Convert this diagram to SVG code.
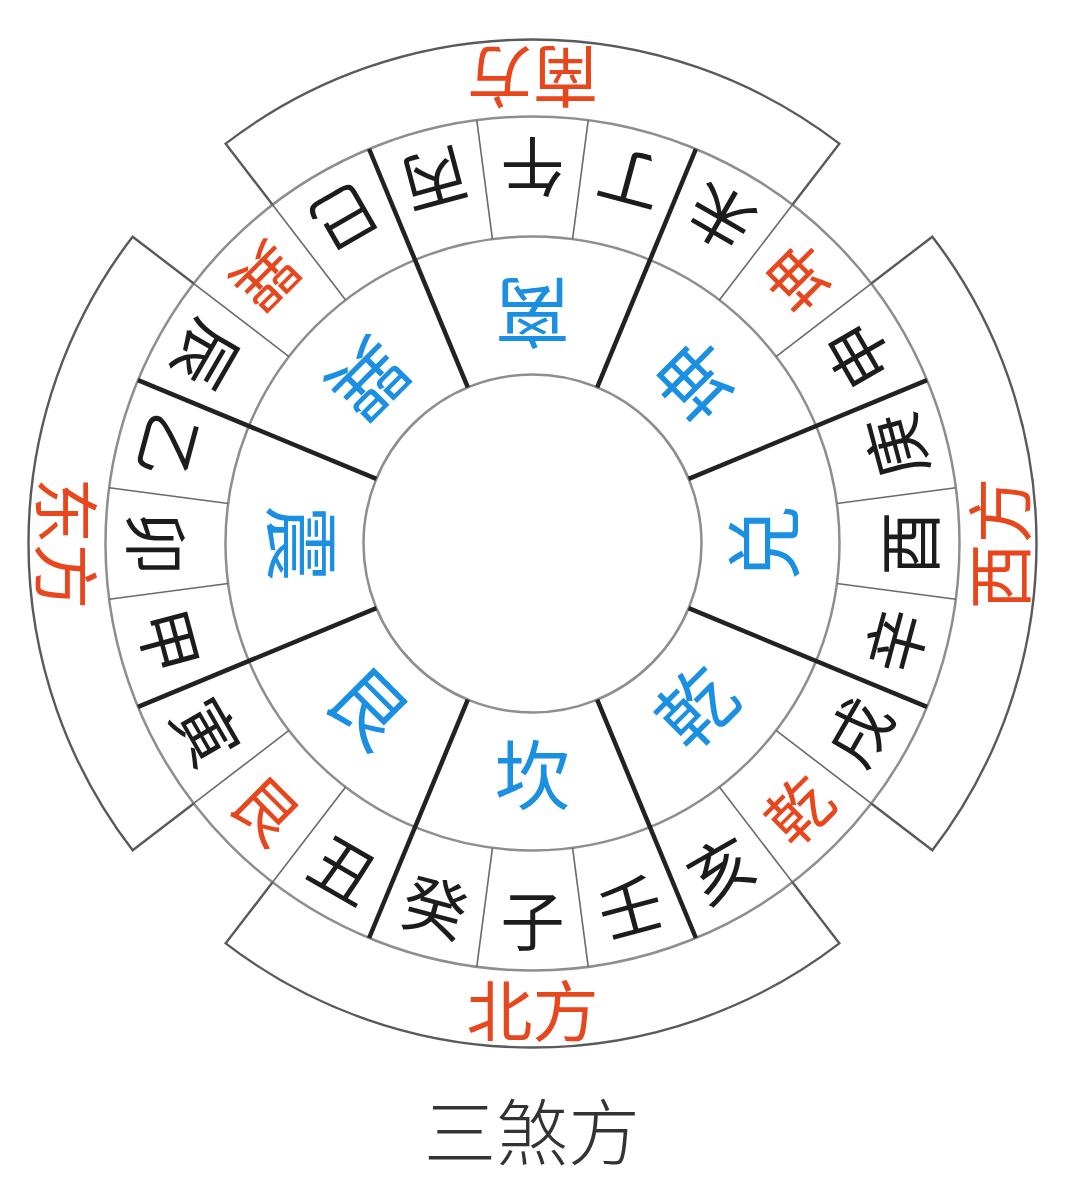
<svg xmlns="http://www.w3.org/2000/svg" xmlns:xlink="http://www.w3.org/1999/xlink" width="1080" height="1200" viewBox="0 0 1080 1200">
  <style>
    text { font-family: "Noto Sans CJK SC", "Noto Sans", sans-serif; text-anchor: middle; dominant-baseline: central; }
    .m { font-size: 64px; fill: #1c1c1c; }
    .mr { font-size: 64px; fill: #e8461c; }
    .tg { font-size: 76px; fill: #1b8fe2; }
    .dir { font-size: 66px; fill: #e8461c; }
    .title { font-size: 72px; fill: #333333; font-weight: 300; }
    .ring { fill: none; stroke: #8e8e8e; stroke-width: 2.5; }
    .thin { stroke: #6a6a6a; stroke-width: 1.6; }
    .thick { stroke: #222222; stroke-width: 4.5; }
    .sector { fill: none; stroke: #5a5a5a; stroke-width: 2.4; }
  </style>
  <defs>
    <path id="sec" d="M 259.94 338.76 L 306.82 399.85 A 504 504 0 0 1 -306.82 399.85 L -259.94 338.76"/>
  </defs>
  <rect x="0" y="0" width="1080" height="1200" fill="#ffffff"/>
  <g transform="translate(532.5,543.5)">
    <g id="rings">
      <circle class="ring" r="169"/>
      <circle class="ring" r="307" stroke="#7a7a7a"/>
      <circle class="ring" r="427"/>
    </g>
    <g id="direction-sectors">
      <use xlink:href="#sec" href="#sec" class="sector"/>
      <use xlink:href="#sec" href="#sec" class="sector" transform="rotate(90)"/>
      <use xlink:href="#sec" href="#sec" class="sector" transform="rotate(180)"/>
      <use xlink:href="#sec" href="#sec" class="sector" transform="rotate(270)"/>
    </g>
    <g id="connectors">
      <g class="thin">
        <line y1="307" y2="427" transform="rotate(7.5)"/>
        <line y1="307" y2="427" transform="rotate(37.5)"/>
        <line y1="307" y2="427" transform="rotate(52.5)"/>
        <line y1="307" y2="427" transform="rotate(82.5)"/>
        <line y1="307" y2="427" transform="rotate(97.5)"/>
        <line y1="307" y2="427" transform="rotate(127.5)"/>
        <line y1="307" y2="427" transform="rotate(142.5)"/>
        <line y1="307" y2="427" transform="rotate(172.5)"/>
        <line y1="307" y2="427" transform="rotate(187.5)"/>
        <line y1="307" y2="427" transform="rotate(217.5)"/>
        <line y1="307" y2="427" transform="rotate(232.5)"/>
        <line y1="307" y2="427" transform="rotate(262.5)"/>
        <line y1="307" y2="427" transform="rotate(277.5)"/>
        <line y1="307" y2="427" transform="rotate(307.5)"/>
        <line y1="307" y2="427" transform="rotate(322.5)"/>
        <line y1="307" y2="427" transform="rotate(352.5)"/>
      </g>
      <g class="thick">
        <line y1="169" y2="427" transform="rotate(22.5)"/>
        <line y1="169" y2="427" transform="rotate(67.5)"/>
        <line y1="169" y2="427" transform="rotate(112.5)"/>
        <line y1="169" y2="427" transform="rotate(157.5)"/>
        <line y1="169" y2="427" transform="rotate(202.5)"/>
        <line y1="169" y2="427" transform="rotate(247.5)"/>
        <line y1="169" y2="427" transform="rotate(292.5)"/>
        <line y1="169" y2="427" transform="rotate(337.5)"/>
      </g>
    </g>
    <g id="trigrams">
      <text class="tg" y="227" transform="rotate(0)">坎</text>
      <text class="tg" y="227" transform="rotate(45)">艮</text>
      <text class="tg" y="227" transform="rotate(90)">震</text>
      <text class="tg" y="227" transform="rotate(135)">巽</text>
      <text class="tg" y="227" transform="rotate(180)">离</text>
      <text class="tg" y="227" transform="rotate(225)">坤</text>
      <text class="tg" y="227" transform="rotate(270)">兑</text>
      <text class="tg" y="227" transform="rotate(315)">乾</text>
    </g>
    <g id="mountains">
      <text class="m" y="373" transform="rotate(0)">子</text>
      <text class="m" y="373" transform="rotate(15)">癸</text>
      <text class="m" y="373" transform="rotate(30)">丑</text>
      <text class="mr" y="373" transform="rotate(45)">艮</text>
      <text class="m" y="373" transform="rotate(60)">寅</text>
      <text class="m" y="373" transform="rotate(75)">甲</text>
      <text class="m" y="373" transform="rotate(90)">卯</text>
      <text class="m" y="373" transform="rotate(105)">乙</text>
      <text class="m" y="373" transform="rotate(120)">辰</text>
      <text class="mr" y="373" transform="rotate(135)">巽</text>
      <text class="m" y="373" transform="rotate(150)">巳</text>
      <text class="m" y="373" transform="rotate(165)">丙</text>
      <text class="m" y="373" transform="rotate(180)">午</text>
      <text class="m" y="373" transform="rotate(195)">丁</text>
      <text class="m" y="373" transform="rotate(210)">未</text>
      <text class="mr" y="373" transform="rotate(225)">坤</text>
      <text class="m" y="373" transform="rotate(240)">申</text>
      <text class="m" y="373" transform="rotate(255)">庚</text>
      <text class="m" y="373" transform="rotate(270)">酉</text>
      <text class="m" y="373" transform="rotate(285)">辛</text>
      <text class="m" y="373" transform="rotate(300)">戌</text>
      <text class="mr" y="373" transform="rotate(315)">乾</text>
      <text class="m" y="373" transform="rotate(330)">亥</text>
      <text class="m" y="373" transform="rotate(345)">壬</text>
    </g>
    <g id="directions">
      <text class="dir" y="463" transform="rotate(0)">北方</text>
      <text class="dir" y="463" transform="rotate(90)">东方</text>
      <text class="dir" y="463" transform="rotate(180)">南方</text>
      <text class="dir" y="463" transform="rotate(270)">西方</text>
    </g>
  </g>
  <g id="title">
    <text class="title" x="532" y="1127">三煞方</text>
  </g>
</svg>
